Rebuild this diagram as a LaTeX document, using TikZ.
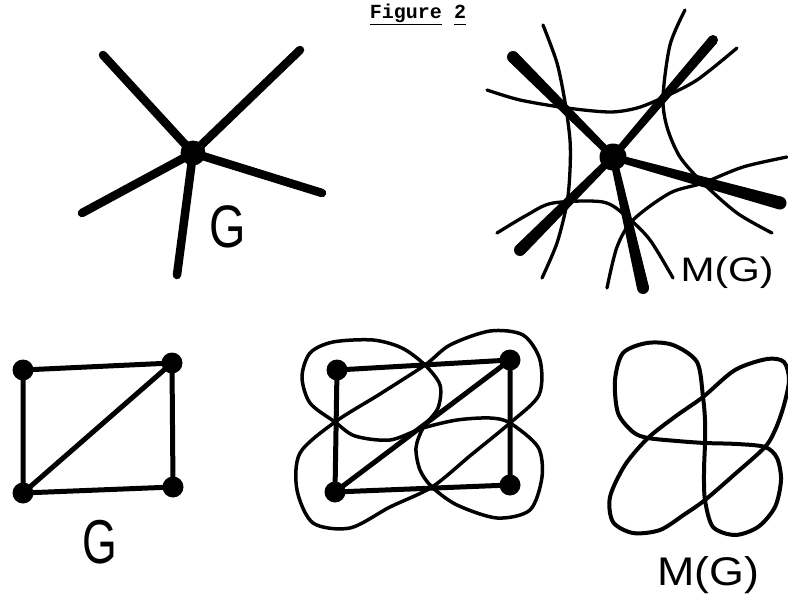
\documentclass[tikz,border=0pt]{standalone}
\usepackage{fontspec}
\usepackage{graphicx}
\setmainfont{Liberation Sans}
\newfontfamily\titlefont{Liberation Mono}
\usetikzlibrary{calc}
\newcommand\taperedge[4]{%
  \fill ($(#1)!#3!90:(#2)$) -- ($(#2)!#4!-90:(#1)$) -- ($(#2)!#4!90:(#1)$) -- ($(#1)!#3!-90:(#2)$) -- cycle;
  \fill (#2) circle[radius=#4];}
\begin{document}
\begin{tikzpicture}[x=1pt,y=-1pt,
  staredge/.style={line width=8.5pt,line cap=round},
  hub/.style={circle,fill,inner sep=0pt,minimum size=#1},
  medial/.style={line width=3.3pt,line cap=round,line join=round},
  gedge/.style={line width=5pt,line cap=round},
  vdot/.style={circle,fill,inner sep=0pt,minimum size=21pt},
  hand/.style={font=\fontsize{#1}{#1}\selectfont,inner sep=0pt}]
\useasboundingbox (0,0) rectangle (788,597);
\clip (0,0) rectangle (788,597);

% title
\node[anchor=base,inner sep=0pt,font=\titlefont\bfseries\fontsize{20}{20}\selectfont] (title) at (418,19) {\underline{Figure} \underline{2\vphantom{g}}};

% ---------- star G ----------
\coordinate (g0) at (193,153);
\coordinate (g1) at (103,55);
\coordinate (g2) at (300,50);
\coordinate (g3) at (322,193);
\coordinate (g4) at (82,213);
\coordinate (g5) at (177,275);
\foreach \e in {g1,g2,g3,g4,g5} \draw[staredge] (g0) -- (\e);
\node[hub=25pt] (g0dot) at (g0) {};
\node[hand=60pt] (glabel1) at (228,227) {\scalebox{0.78}[1]{G}};

% ---------- star M(G) ----------
\coordinate (m0) at (613,157);
\coordinate (m1) at (513,57);
\coordinate (m2) at (713,40);
\coordinate (m3) at (780,203);
\coordinate (m4) at (520,250);
\coordinate (m5) at (643,288);
\taperedge{m0}{m1}{3.5pt}{6pt}
\taperedge{m0}{m2}{3.5pt}{5pt}
\taperedge{m0}{m3}{3.5pt}{6.5pt}
\taperedge{m0}{m4}{3.5pt}{6pt}
\taperedge{m0}{m5}{3.5pt}{6pt}
\node[hub=27pt] (m0dot) at (m0) {};
\draw[medial] plot[smooth] coordinates {(487,90) (520,100) (567,108) (610,112) (637,108) (662,98) (697,80) (737,48)};
\draw[medial] plot[smooth] coordinates {(543,25) (557,63) (565,102) (570,140) (570,170) (567,203) (557,243) (542,278)};
\draw[medial] plot[smooth] coordinates {(685,10) (670,45) (663,97) (667,127) (680,157) (703,183) (737,213) (772,233)};
\draw[medial] plot[smooth] coordinates {(497,233) (527,215) (553,203) (603,202) (627,217) (650,240) (673,278)};
\draw[medial] plot[smooth] coordinates {(607,288) (617,247) (633,220) (670,193) (703,183) (743,167) (787,157)};
\node[hand=34pt,anchor=base] (mlabel1) at (727,281) {\scalebox{1.2}[1]{M(G)}};

% ---------- graph G ----------
\node[vdot] (a1) at (23,370) {};
\node[vdot] (a2) at (172,363) {};
\node[vdot] (a3) at (23,493) {};
\node[vdot] (a4) at (173,487) {};
\draw[gedge] (a1.center) -- (a2.center) -- (a4.center) -- (a3.center) -- cycle;
\draw[gedge] (a3.center) -- (a2.center);
\node[hand=62pt] (glabel2) at (100,542) {\scalebox{0.72}[1]{G}};

% ---------- G with its medial graph ----------
\node[vdot] (b1) at (337,370) {};
\node[vdot] (b2) at (510,360) {};
\node[vdot] (b3) at (335,492) {};
\node[vdot] (b4) at (510,485) {};
\draw[gedge] (b1.center) -- (b2.center) -- (b4.center) -- (b3.center) -- cycle;
\draw[gedge] (b3.center) -- (b2.center);
\draw[medial,line width=3.5pt] plot[smooth cycle] coordinates {
  (335,422) (310,403) (302,377) (310,353) (333,342) (373,340) (402,348) (425,365)
  (440,385) (438,408) (423,428) (416,448) (420,470) (432,487)
  (457,505) (497,518) (530,510) (542,477) (538,447) (510,423)
  (490,418) (457,420) (423,428) (390,440) (355,436)};
\draw[medial,line width=3.5pt] plot[smooth cycle] coordinates {
  (335,422) (380,394) (425,365) (450,345) (490,331) (523,335) (540,360) (539,395)
  (510,423) (471,455) (432,487) (390,507) (350,528) (313,523) (297,490) (300,453)};

% ---------- M(G) ----------
\draw[medial,line width=4pt] plot[smooth cycle] coordinates {
  (648,438) (677,441) (705,443) (737,444) (765,447) (777,458) (781,480) (775,507)
  (758,527) (735,535) (713,527) (705,500) (704,472) (705,443) (705,420) (703,397)
  (697,362) (673,345) (647,343) (623,353) (615,380) (618,413) (633,432)};
\draw[medial,line width=4pt] plot[smooth cycle] coordinates {
  (703,397) (676,416) (648,438) (625,465) (610,497) (613,522) (633,533) (660,530)
  (685,514) (705,500) (735,474) (765,447) (776,428) (784,405) (789,380) (784,362)
  (767,359) (735,370)};
\node[hand=40pt,anchor=base] (mlabel2) at (708,585) {\scalebox{1.12}[1]{M(G)}};
\end{tikzpicture}
\end{document}
